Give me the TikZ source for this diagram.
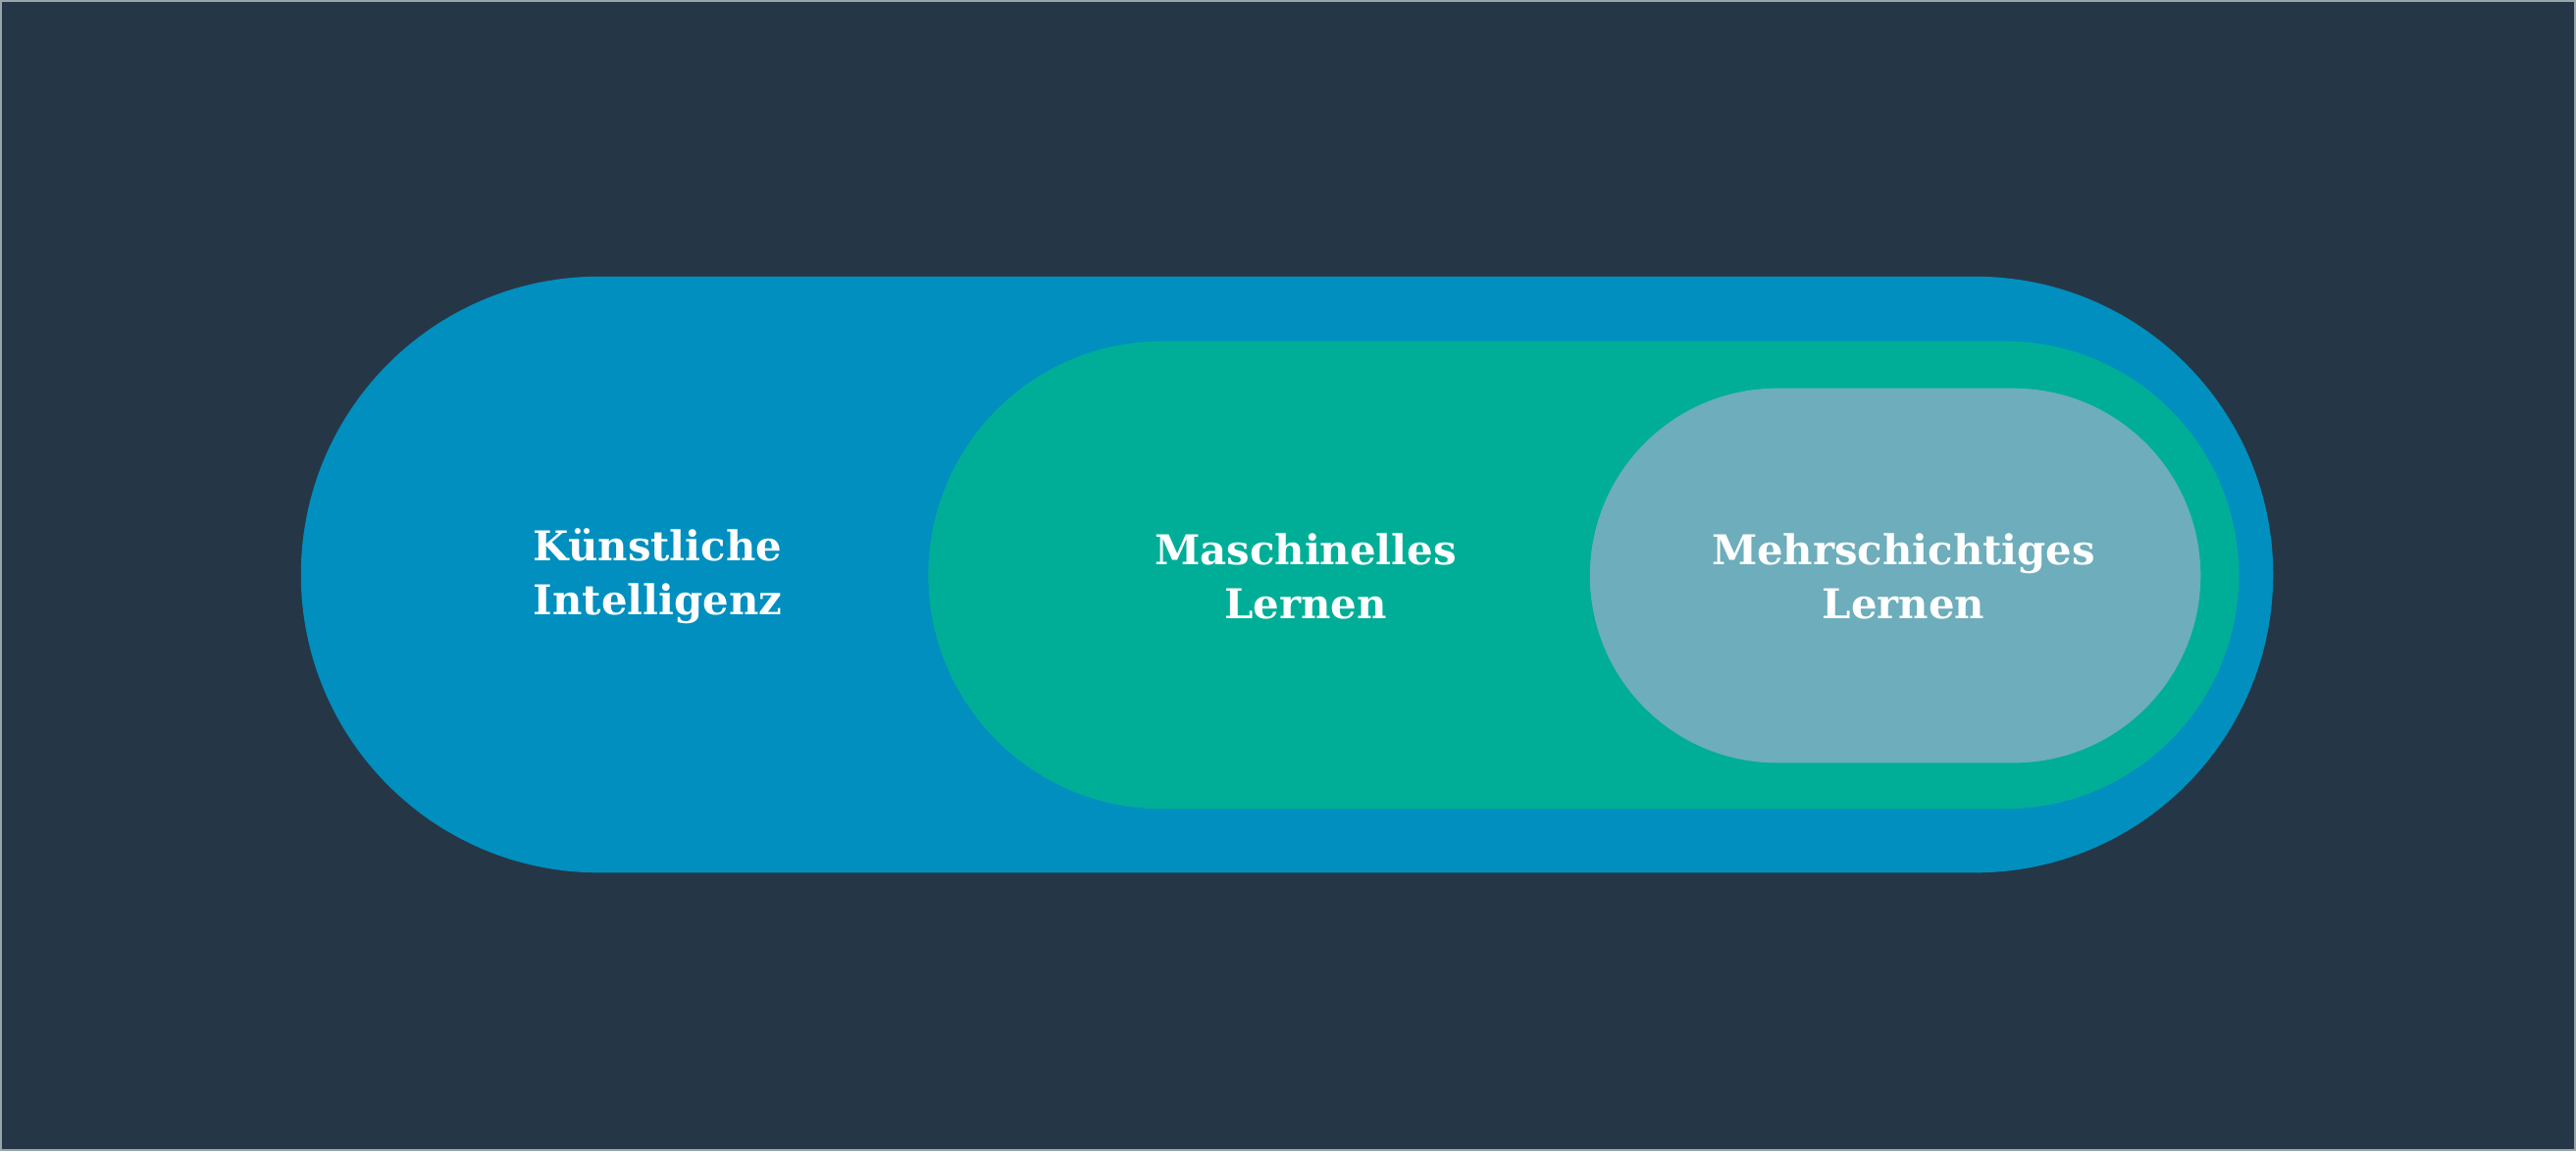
\documentclass[tikz,border=0pt]{standalone}
\usepackage{fontspec}
\setmainfont{DejaVu Serif}
\usepackage{tikz}

\definecolor{bgdark}{HTML}{253746}
\definecolor{bgedge}{HTML}{9AA4AC}
\definecolor{kiblue}{HTML}{008FBF}
\definecolor{mlgreen}{HTML}{00AE98}
\definecolor{dlgrey}{HTML}{6DADBC}

\tikzset{
  pilltext/.style={text=white, font=\bfseries\fontsize{11.9}{15.6}\selectfont, align=center, inner sep=0pt}
}

\begin{document}
\begin{tikzpicture}
  \fill[bgdark] (0,0) rectangle (26.26,11.72);
  \draw[bgedge, line width=0.02cm] (0,0) rectangle (26.26,11.72);
  \useasboundingbox (0,0) rectangle (26.26,11.72);

  \fill[kiblue, rounded corners=3.04cm] (3.06,2.83) rectangle (23.18,8.91);
  \fill[mlgreen, rounded corners=2.385cm] (9.46,3.48) rectangle (22.83,8.25);
  \fill[dlgrey, rounded corners=1.91cm] (16.21,3.95) rectangle (22.44,7.77);

  \node[pilltext] (ki) at (6.70,5.85) {Künstliche\\Intelligenz};
  \node[pilltext] (ml) at (13.31,5.85) {Maschinelles\\Lernen};
  \node[pilltext] (dl) at (19.41,5.85) {Mehrschichtiges\\Lernen};

\end{tikzpicture}
\end{document}
